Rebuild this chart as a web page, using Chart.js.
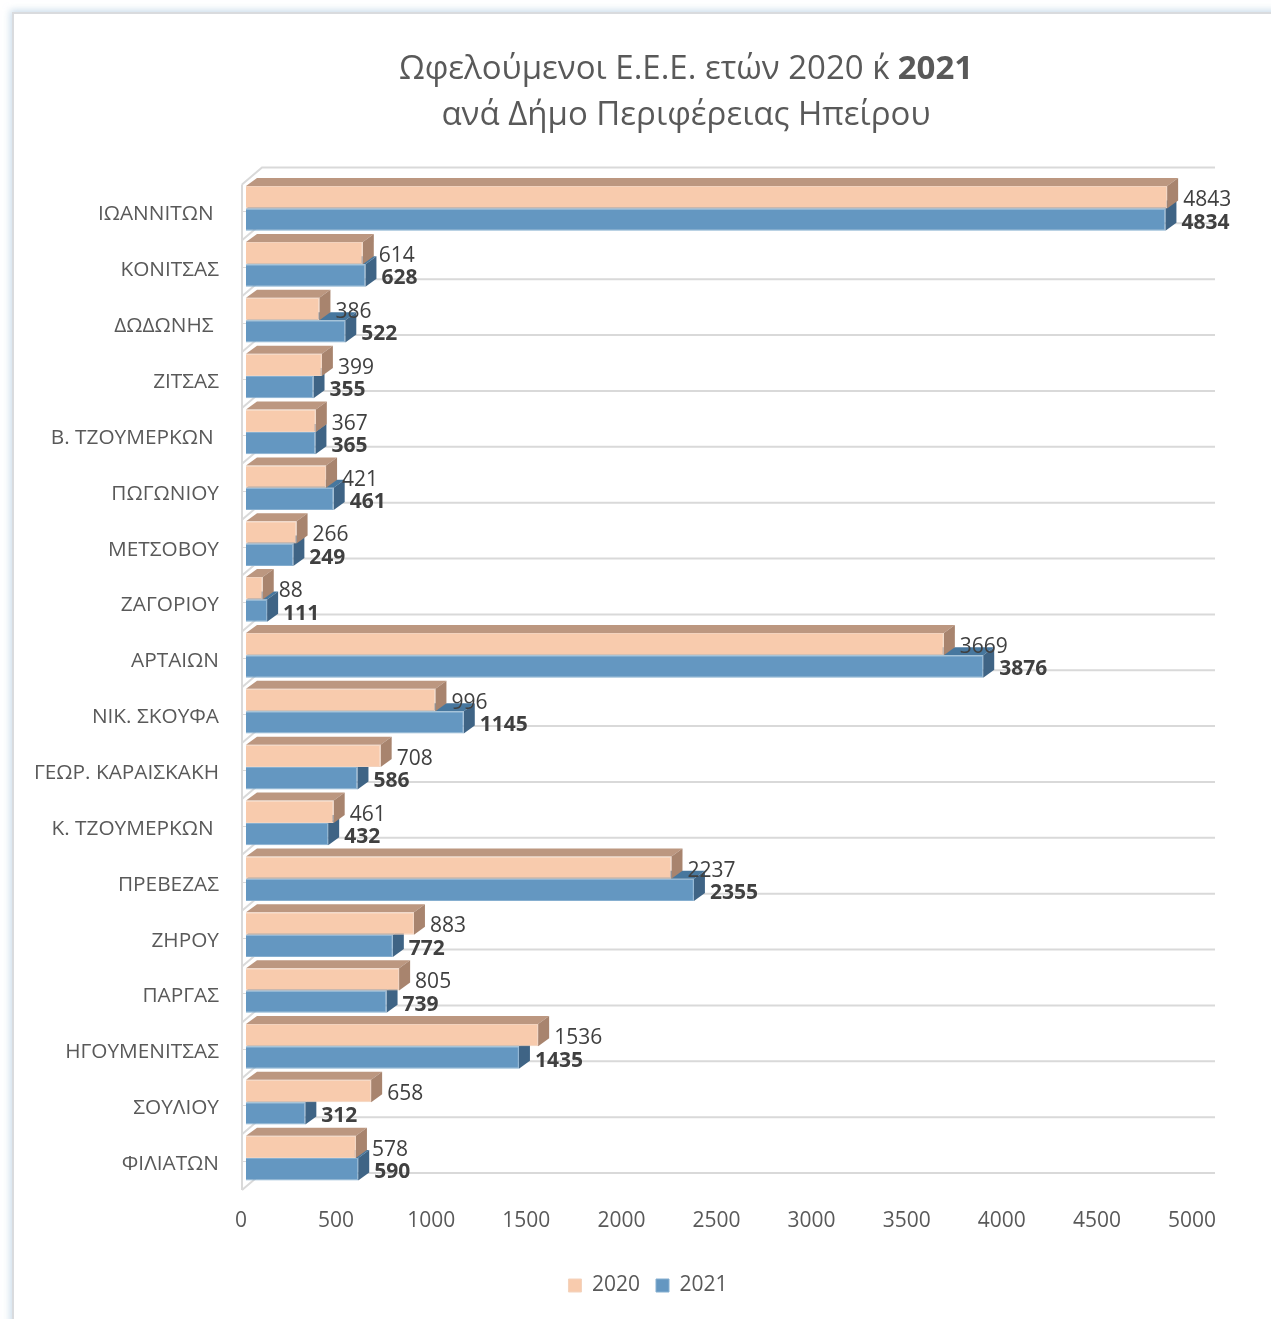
<!DOCTYPE html>
<html lang="el">
<head>
<meta charset="utf-8">
<title>Ωφελούμενοι Ε.Ε.Ε.</title>
<script src="https://cdn.jsdelivr.net/npm/chart.js@4"></script>
<style>
  html, body { margin: 0; padding: 0; background: #fff; overflow: hidden; }
  #page { position: relative; width: 1271px; height: 1319px; overflow: hidden; }
  #frame {
    position: absolute; left: 12px; top: 12px; width: 1320px; height: 1360px;
    border: 2px solid #d9dbde; box-sizing: border-box;
    box-shadow: 0 0 7px 2px rgba(170, 198, 222, 0.6);
  }
  #title {
    position: absolute; left: 336px; top: 44px; width: 700px; text-align: center;
    font: 400 33px/46px "Open Sans", sans-serif; color: #595959; white-space: nowrap;
  }
  #title b { font-weight: 700; margin-left: 8px; }
  canvas { position: absolute; left: 0; top: 0; }
</style>
</head>
<body>
<div id="page">
  <div id="frame"></div>
  <canvas id="chart" width="1271" height="1319"></canvas>
  <div id="title">Ωφελούμενοι Ε.Ε.Ε. ετών 2020 κ΄<b>2021</b><br>ανά Δήμο Περιφέρειας Ηπείρου</div>
</div>
<script>
// Data
const municipalities = [
  'ΙΩΑΝΝΙΤΩΝ ', 'ΚΟΝΙΤΣΑΣ', 'ΔΩΔΩΝΗΣ ', 'ΖΙΤΣΑΣ', 'Β. ΤΖΟΥΜΕΡΚΩΝ ', 'ΠΩΓΩΝΙΟΥ',
  'ΜΕΤΣΟΒΟΥ', 'ΖΑΓΟΡΙΟΥ', 'ΑΡΤΑΙΩΝ', 'ΝΙΚ. ΣΚΟΥΦΑ', 'ΓΕΩΡ. ΚΑΡΑΙΣΚΑΚΗ', 'Κ. ΤΖΟΥΜΕΡΚΩΝ ',
  'ΠΡΕΒΕΖΑΣ', 'ΖΗΡΟΥ', 'ΠΑΡΓΑΣ', 'ΗΓΟΥΜΕΝΙΤΣΑΣ', 'ΣΟΥΛΙΟΥ', 'ΦΙΛΙΑΤΩΝ'
];
const values2020 = [4843, 614, 386, 399, 367, 421, 266, 88, 3669, 996, 708, 461, 2237, 883, 805, 1536, 658, 578];
const values2021 = [4834, 628, 522, 355, 365, 461, 249, 111, 3876, 1145, 586, 432, 2355, 772, 739, 1435, 312, 590];
const xMax = 5000;
const xStep = 500;

const FONT = "'Open Sans', sans-serif";
const GRID = '#d9d9d9';
const FACES = [
  { front: '#F8CBAD', edge: '#F3D3BE', top: '#BC9780', side: '#A8846E' },
  { front: '#6497C1', edge: '#86AFD0', top: '#47779E', side: '#3F6485' },
];
const DEPTH_X = 11, DEPTH_Y = 8;     // extrusion of the bars
const WALL_X = 20, WALL_Y = 17;      // left wall of the 3D box
const GRID_RIGHT = 1215;
const LEGEND_SHIFT = 37;             // legend is centred on the picture, not on the plot

function poly(ctx, color, pts) {
  ctx.fillStyle = color;
  ctx.beginPath();
  pts.forEach((p, i) => i ? ctx.lineTo(p[0], p[1]) : ctx.moveTo(p[0], p[1]));
  ctx.closePath();
  ctx.fill();
}

// Back wall grid, left wall and the top/side faces of the bars
const box3d = {
  id: 'box3d',
  afterLayout(chart) {
    chart.legend.left += LEGEND_SHIFT;
    chart.legend.right += LEGEND_SHIFT;
  },
  beforeDatasetsDraw(chart) {
    const { ctx, scales: { x, y } } = chart;
    const step = y.getPixelForValue(1) - y.getPixelForValue(0);
    const left = x.left - 4;
    const firstFront = y.getPixelForValue(0) - step / 2 + 4;
    ctx.save();
    ctx.strokeStyle = GRID;
    ctx.lineWidth = 2;
    ctx.beginPath();
    ctx.moveTo(left, firstFront);
    ctx.lineTo(left, firstFront + step * municipalities.length);
    for (let i = 0; i <= municipalities.length; i++) {
      const fy = firstFront + step * i;
      ctx.moveTo(left, fy);
      ctx.lineTo(left + WALL_X, fy - WALL_Y);
      ctx.lineTo(GRID_RIGHT, fy - WALL_Y);
    }
    ctx.stroke();
    ctx.lineWidth = 1;
    ctx.beginPath();
    municipalities.forEach((_, i) => {
      const cy = Math.round(y.getPixelForValue(i)) + 3.5;
      ctx.moveTo(left, cy);
      ctx.lineTo(x.left, cy);
    });
    ctx.stroke();
    // blue first, so the orange bar sits over it
    [1, 0].forEach(ds => {
      chart.getDatasetMeta(ds).data.forEach(bar => {
        const t = bar.y - bar.height / 2, b = bar.y + bar.height / 2;
        poly(ctx, FACES[ds].top, [[bar.base, t], [bar.x, t], [bar.x + DEPTH_X, t - DEPTH_Y], [bar.base + DEPTH_X, t - DEPTH_Y]]);
        poly(ctx, FACES[ds].side, [[bar.x, t], [bar.x + DEPTH_X, t - DEPTH_Y], [bar.x + DEPTH_X, b - DEPTH_Y], [bar.x, b]]);
      });
    });
    ctx.restore();
  },
  afterDatasetsDraw(chart) {
    const { ctx } = chart;
    ctx.save();
    ctx.textAlign = 'left';
    ctx.textBaseline = 'middle';
    ctx.fillStyle = '#404040';
    [0, 1].forEach(ds => {
      ctx.font = (ds ? '700 ' : '400 ') + '21px ' + FONT;
      chart.getDatasetMeta(ds).data.forEach((bar, i) => {
        ctx.fillText(chart.data.datasets[ds].data[i], bar.x + 16, bar.y + 3);
      });
    });
    ctx.restore();
  }
};

new Chart(document.getElementById('chart'), {
  type: 'bar',
  plugins: [box3d],
  data: {
    labels: municipalities,
    datasets: [
      { label: '2020', data: values2020, backgroundColor: FACES[0].front, borderColor: FACES[0].edge, borderWidth: 1 },
      { label: '2021', data: values2021, backgroundColor: FACES[1].front, borderColor: FACES[1].edge, borderWidth: 1 },
    ],
  },
  options: {
    indexAxis: 'y',
    responsive: false,
    animation: false,
    categoryPercentage: 0.8,
    barPercentage: 1,
    layout: { padding: { top: 180.5, left: 25, right: 74, bottom: 13 } },
    plugins: {
      title: { display: false },
      tooltip: { enabled: false },
      legend: {
        position: 'bottom',
        labels: { color: '#595959', font: { family: FONT, size: 21 }, boxWidth: 13, boxHeight: 13, padding: 16 },
      },
    },
    scales: {
      x: {
        min: 0, max: xMax,
        grid: { display: false, drawTicks: false },
        border: { display: false },
        ticks: { stepSize: xStep, color: '#595959', font: { family: FONT, size: 21 }, labelOffset: -5, padding: 22, maxRotation: 0, autoSkip: false, callback: v => String(v) },
        afterFit(scale) { scale.height = 73; },
      },
      y: {
        grid: { display: false, drawTicks: false },
        border: { display: false },
        ticks: { color: '#595959', font: { family: FONT, size: 20.8 }, labelOffset: 6, padding: 27, autoSkip: false },
        afterFit(scale) { scale.width = 221; },
      },
    },
  },
});
</script>
</body>
</html>
